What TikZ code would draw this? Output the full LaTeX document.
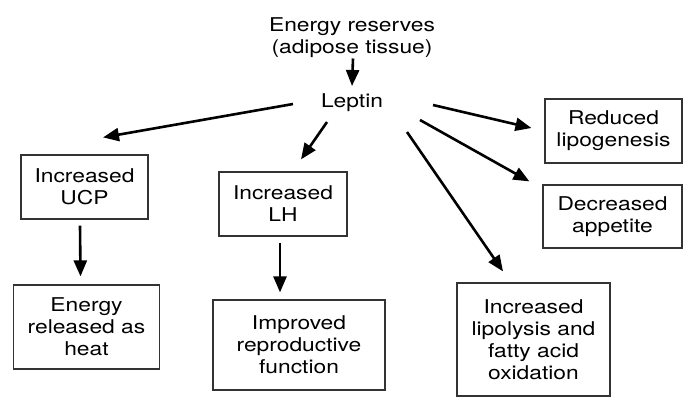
\documentclass[tikz,border=0pt]{standalone}
\usepackage{fontspec}
\setmainfont{TeX Gyre Heros}[FakeStretch=1.2]
\usetikzlibrary{arrows.meta,calc,positioning}

\begin{document}
\begin{tikzpicture}[x=0.5pt,y=-0.5pt,font=\fontsize{9.5pt}{11pt}\selectfont,
  box/.style={draw=black!80,line width=0.6pt,align=center,inner sep=0pt},
  arr/.style={-{Triangle[length=8pt,width=6.5pt]},line width=1.3pt}]
\useasboundingbox (0,0) rectangle (683,397);
% source and hormone
\node[align=center] (res) at (352,37.5) {Energy reserves\\(adipose tissue)};
\node (lep) at (352,103) {Leptin};
% effects, left side
\node[box,minimum width=63.5pt,minimum height=32pt] (ucp) at (84.5,187) {Increased\\UCP};
\node[box,minimum width=73pt,minimum height=42pt] (heat) at (86.5,327) {Energy\\released as\\heat};
\node[box,minimum width=64pt,minimum height=32pt] (lh) at (283,204) {Increased\\LH};
\node[box,minimum width=86pt,minimum height=45pt] (repro) at (299,345) {Improved\\reproductive\\function};
% effects, right side
\node[box,minimum width=68.5pt,minimum height=32pt] (lipog) at (613.5,131) {Reduced\\lipogenesis};
\node[box,minimum width=69.5pt,minimum height=31.5pt] (appet) at (612.5,216.5) {Decreased\\appetite};
\node[box,minimum width=76.5pt,minimum height=56.5pt] (lipol) at (533.5,339.5) {Increased\\lipolysis and\\fatty acid\\oxidation};
% arrows
\draw[arr] ([xshift=0.5pt,yshift=-10.5pt]res.center) -- ([yshift=8.5pt]lep.center);
\draw[arr] ([xshift=-29.5pt,yshift=-0.5pt]lep.center) -- ([xshift=9.25pt,yshift=8.5pt]ucp.north);
\draw[arr] ([xshift=-12.5pt,yshift=-9.5pt]lep.center) -- ([xshift=9pt,yshift=6pt]lh.north);
\draw[arr] ([xshift=27.5pt,yshift=-14.5pt]lep.center) -- ([xshift=-15.25pt,yshift=5.5pt]lipol.north);
\draw[arr] ([xshift=34pt,yshift=-8.5pt]lep.center) -- ([xshift=-6.5pt,yshift=1.5pt]appet.north west);
\draw[arr] ([xshift=40.5pt,yshift=-1pt]lep.center) -- ([xshift=-6.5pt,yshift=1.5pt]lipog.west);
\draw[arr] ([xshift=-2.25pt,yshift=-3pt]ucp.south) -- ([xshift=-3pt,yshift=4pt]heat.north);
\draw[arr] ([xshift=-1.5pt,yshift=-3pt]lh.south) -- ([xshift=-9.5pt,yshift=3.5pt]repro.north);
\end{tikzpicture}
\end{document}
